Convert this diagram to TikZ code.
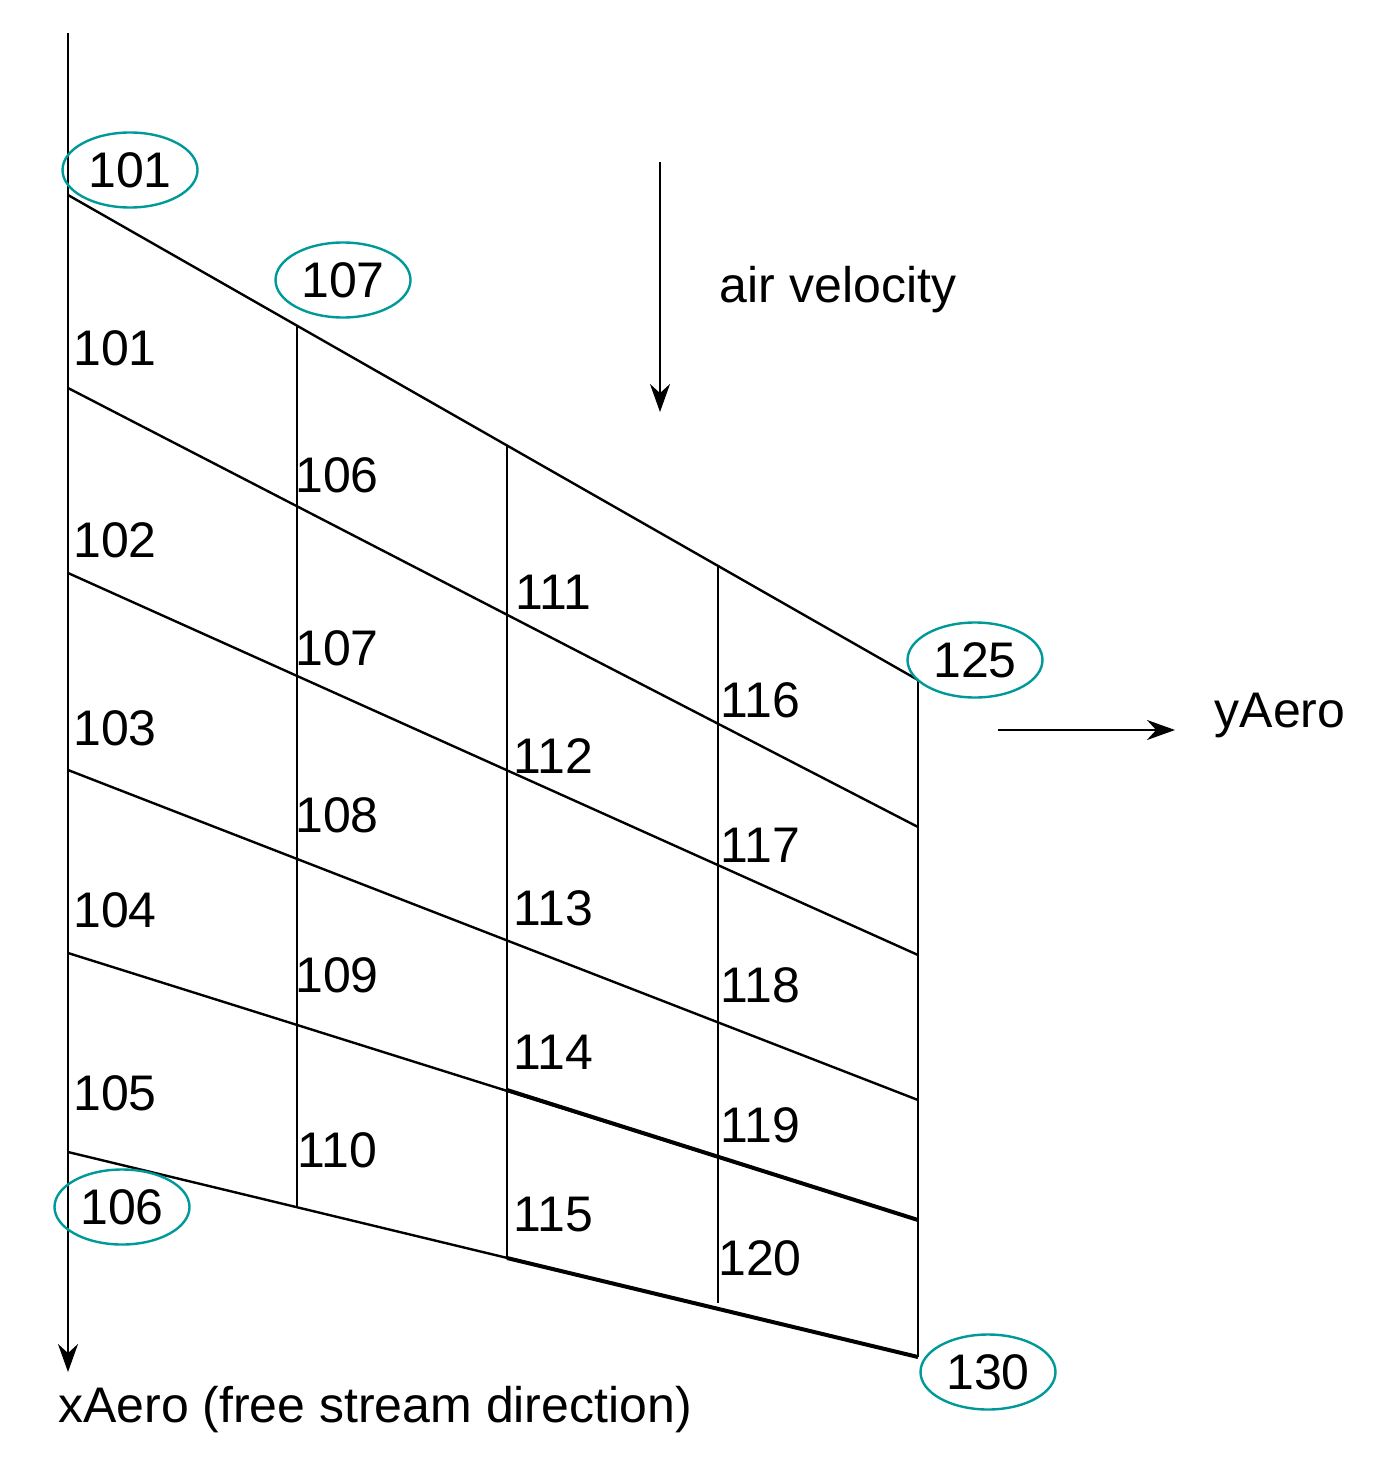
\documentclass[tikz,border=0pt]{standalone}
\usepackage{fontspec}
\setmainfont{Liberation Sans}
\usetikzlibrary{arrows.meta,shapes.geometric}
\begin{document}
\begin{tikzpicture}[x=1pt,y=-1pt,
  ln/.style={line width=2.4pt,black},
  lab/.style={font=\fontsize{50}{50}\selectfont,inner sep=0pt},
  ell/.style={draw=teal!80!cyan,line width=2.4pt,ellipse,minimum width=135pt,minimum height=75pt,font=\fontsize{50}{50}\selectfont,inner sep=0pt},
  arr/.style={ln,-{Stealth[length=28pt,width=20pt]}}]
\useasboundingbox (0,0) rectangle (1379,1469);
% axis
\coordinate (ax0) at (68,33); \coordinate (ax1) at (68,1372);
\draw[arr] (ax0) -- (ax1);
% edges and chord lines
\foreach \l/\r [count=\i] in {195/680,388/827,573/955,770/1100,953/1220,1152/1357}{
  \coordinate (L\i) at (68,\l); \coordinate (R\i) at (918,\r);
  \draw[ln] (L\i) -- (R\i);}
% spanwise lines
\foreach \x/\a/\b [count=\j] in {297/326/1207,507/445/1258,718/567/1303,918/680/1357}{
  \coordinate (T\j) at (\x,\a); \coordinate (B\j) at (\x,\b);
  \draw[ln] (T\j) -- (B\j);}
\draw[line width=4pt] (507,1090) -- (918,1220);
\draw[line width=4pt] (507,1258) -- (918,1357);
% panel labels
\foreach \t/\x/\y in {101/115/348,102/115/540,103/115/728,104/115/910,105/115/1093,
 106/337/475,107/337/648,108/337/815,109/337/975,110/337/1150,
 111/553/592,112/553/756,113/553/908,114/553/1052,115/553/1215,
 116/760/700,117/760/845,118/760/985,119/760/1125,120/760/1258}
 \node[lab] (p\t) at (\x,\y) {\t};
% grid point labels
\node[ell] (g101) at (130,170) {101};
\node[ell] (g107) at (343,280) {107};
\node[ell] (g125) at (975,660) {125};
\node[ell] (g106) at (122,1207) {106};
\node[ell] (g130) at (988,1372) {130};
% air velocity
\coordinate (av0) at (660,162); \coordinate (av1) at (660,412);
\draw[arr] (av0) -- (av1);
\node[lab] (avt) at (838,290) {air velocity};
% yAero
\coordinate (ya0) at (998,730); \coordinate (ya1) at (1175,730);
\draw[arr] (ya0) -- (ya1);
\node[lab] (yat) at (1280,715) {yAero};
\node[lab] (xat) at (375,1410) {xAero (free stream direction)};
\end{tikzpicture}
\end{document}
